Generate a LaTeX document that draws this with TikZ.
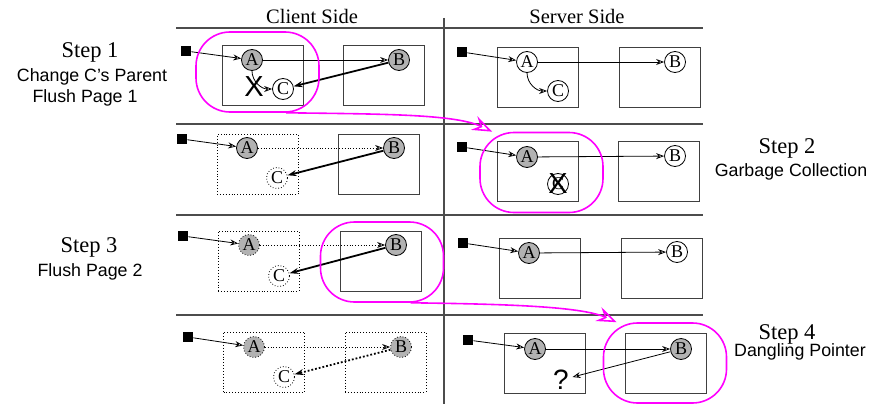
\documentclass[tikz,border=0pt]{standalone}
\usepackage{fontspec}
\setmainfont{Liberation Serif}
\setsansfont{Liberation Sans}
\usetikzlibrary{arrows.meta}
\definecolor{hilite}{RGB}{255,0,255}

\begin{document}
\begin{tikzpicture}[x=1pt, y=1pt, >={Stealth[open,length=8pt,width=6pt]}, line width=0.8pt]
\tikzstyle{obj}=[circle,draw=black,line width=0.8pt,fill=white,inner sep=0pt,minimum size=21pt,font=\fontsize{18}{18}\selectfont]
\tikzstyle{live}=[obj,fill=black!30]
\tikzstyle{gone}=[obj,dotted]
\tikzstyle{ghost}=[live,dotted]
\tikzstyle{page}=[rectangle,draw=black!75,line width=0.9pt,minimum width=81pt,minimum height=60pt,inner sep=0pt]
\tikzstyle{oldpage}=[page,dotted,draw=black]
\tikzstyle{root}=[rectangle,fill=black,minimum size=10pt,inner sep=0pt]
\tikzstyle{hl}=[rectangle,draw=hilite,line width=1.6pt,rounded corners=34pt,minimum width=123pt,minimum height=80pt]
\tikzstyle{strong}=[-{Stealth[length=9pt,width=6pt]},line width=1.8pt]
\tikzstyle{hop}=[draw=hilite,line width=1.6pt,-{Stealth[open,length=20pt,width=15pt,inset=7pt]}]
\tikzstyle{xmark}=[inner sep=0pt,font=\sffamily\fontsize{29}{29}\selectfont]
\tikzstyle{sidetext}=[font=\fontsize{20.5}{22}\selectfont]
\tikzstyle{steptext}=[font=\fontsize{22.5}{24}\selectfont]
\tikzstyle{remark}=[font=\sffamily\fontsize{17.8}{20}\selectfont]
\useasboundingbox (0,0) rectangle (869,-404);

% frame
\foreach \y in {28,124,215,315}
  \draw[black!70,line width=1.2pt] (176,-\y) -- (703,-\y);
\draw[black!70,line width=1.2pt] (444,-18) -- (444,-404);
\node[sidetext] (client) at (312,-16) {Client Side};
\node[sidetext] (server) at (577,-16) {Server Side};

% step texts
\node[steptext] (st1)  at (90,-52)  {Step 1};
\node[remark]   (st1a) at (92,-77)  {Change C’s Parent};
\node[remark]   (st1b) at (85,-98)  {Flush Page 1};
\node[steptext] (st2)  at (787,-148) {Step 2};
\node[remark]   (st2a) at (791,-172) {Garbage Collection};
\node[steptext] (st3)  at (89,-247) {Step 3};
\node[remark]   (st3a) at (90,-272) {Flush Page 2};
\node[steptext] (st4)  at (787,-334) {Step 4};
\node[remark]   (st4a) at (800,-352) {Dangling Pointer};

% step 1
\node[page] (c1p1) at (262.5,-75) {};
\node[page] (c1p2) at (383.5,-75) {};
\node[root] (c1r) at (186,-51) {};
\node[live] (c1A) at (252,-60) {A};
\node[live] (c1B) at (399,-60) {B};
\node[obj]  (c1C) at (283,-89) {C};
\path[->]
(c1r) edge (c1A)
(c1A) edge (c1B)
      edge[out=-90,in=180] (c1C)
(c1B) edge[strong] (c1C);
\node[xmark] (c1x) at (254,-87) {X};
\node[hl] (c1hl) at (257.5,-72) {};

\node[page] (s1p1) at (537.5,-77.5) {};
\node[page] (s1p2) at (659.5,-77.5) {};
\node[root] (s1r) at (462,-52) {};
\node[obj]  (s1A) at (527,-62) {A};
\node[obj]  (s1B) at (675,-62) {B};
\node[obj]  (s1C) at (558,-91) {C};
\path[->]
(s1r) edge (s1A)
(s1A) edge (s1B)
      edge[out=-90,in=180] (s1C);

% step 2
\node[oldpage] (c2p1) at (257.5,-164.5) {};
\node[page] (c2p2) at (378.5,-164.5) {};
\node[root] (c2r) at (182,-139) {};
\node[live] (c2A) at (247,-148) {A};
\node[live] (c2B) at (394,-148) {B};
\node[gone] (c2C) at (277,-178) {C};
\path[->]
(c2r) edge (c2A)
(c2A) edge[dotted] (c2B)
(c2B) edge[strong] (c2C);

\node[page] (s2p1) at (537.5,-171) {};
\node[page] (s2p2) at (659,-171) {};
\node[root] (s2r) at (462,-147) {};
\node[live] (s2A) at (527,-157) {A};
\node[obj]  (s2B) at (675,-156) {B};
\node[obj]  (s2C) at (558,-184) {C};
\node[xmark] (s2x) at (s2C) {X};
\path[->]
(s2r) edge (s2A)
(s2A) edge (s2B);
\node[hl] (s2hl) at (541.5,-172.5) {};

% step 3
\node[oldpage] (c3p1) at (258.5,-261) {};
\node[page] (c3p2) at (381,-261) {};
\node[root] (c3r) at (183,-236) {};
\node[ghost] (c3A) at (249,-245) {A};
\node[live] (c3B) at (396,-245) {B};
\node[gone] (c3C) at (279,-276) {C};
\path[->]
(c3r) edge (c3A)
(c3A) edge[dotted] (c3B)
(c3B) edge[strong] (c3C);
\node[hl] (c3hl) at (382,-262) {};

\node[page] (s3p1) at (539.5,-268) {};
\node[page] (s3p2) at (661.5,-268) {};
\node[root] (s3r) at (463,-243) {};
\node[live] (s3A) at (529,-253) {A};
\node[obj]  (s3B) at (677,-252) {B};
\path[->]
(s3r) edge (s3A)
(s3A) edge (s3B);

% step 4
\node[oldpage] (c4p1) at (264,-362) {};
\node[oldpage] (c4p2) at (385.5,-362) {};
\node[root] (c4r) at (188,-337) {};
\node[ghost] (c4A) at (254,-347) {A};
\node[ghost] (c4B) at (401,-347) {B};
\node[gone] (c4C) at (284,-377) {C};
\path[->]
(c4r) edge (c4A)
(c4A) edge[dotted] (c4B)
(c4B) edge[strong,dotted] (c4C);

\node[page] (s4p1) at (544.5,-363) {};
\node[page] (s4p2) at (666,-363) {};
\node[root] (s4r) at (468,-340) {};
\node[live] (s4A) at (535,-349) {A};
\node[live] (s4B) at (681,-349) {B};
\node[remark,font=\sffamily\fontsize{28}{28}\selectfont] (s4q) at (561,-380) {?};
\path[->]
(s4r) edge (s4A)
(s4A) edge (s4B)
(s4B) edge (s4q);
\node[hl] (s4hl) at (665,-363) {};

% moves between steps
\coordinate (s2in) at ([xshift=13pt]s2hl.north west);
\coordinate (s4in) at ([xshift=14pt]s4hl.north west);
\draw[hop] (c1hl.305) .. controls (380,-114) and (455,-114) .. (s2in);
\draw[hop] (c3hl.305) .. controls (500,-304) and (580,-306) .. (s4in);
\end{tikzpicture}
\end{document}
